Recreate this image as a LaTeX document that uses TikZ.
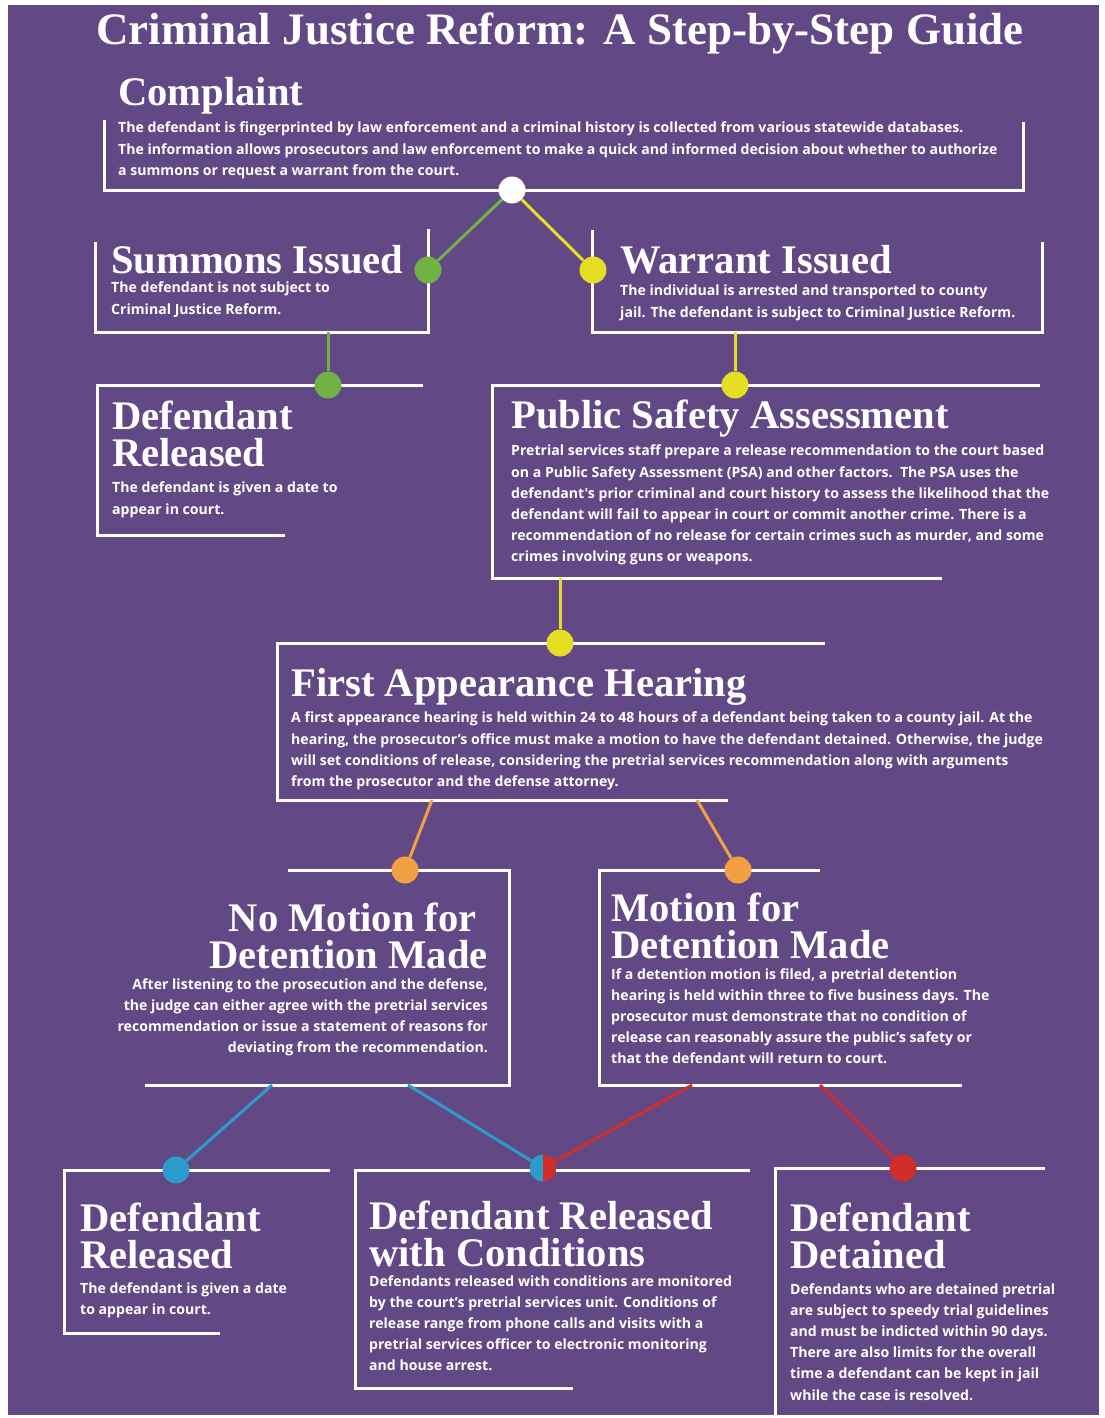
\documentclass[tikz,border=0pt]{standalone}
\usepackage{fontspec}
\setmainfont{Liberation Serif}
\newfontfamily\bodyfont{Open Sans}
\definecolor{bgpurple}{RGB}{99,72,134}
\definecolor{dotgreen}{RGB}{112,178,68}
\definecolor{dotyellow}{RGB}{230,222,35}
\definecolor{dotorange}{RGB}{241,160,68}
\definecolor{dotblue}{RGB}{44,156,202}
\definecolor{dotred}{RGB}{209,46,40}

\begin{document}
\begin{tikzpicture}[x=1pt,y=-1pt]
\tikzstyle{every node}+=[inner sep=0pt]
\tikzstyle{frame}=[white, line width=3pt]
\tikzstyle{link}=[line width=3pt]
\tikzstyle{dot}=[circle, minimum size=27pt]
\tikzstyle{title}=[font=\fontsize{45}{50}\selectfont\bfseries, text=white]
\tikzstyle{head}=[font=\fontsize{40.6}{37}\selectfont\bfseries, text=white, align=left]
\tikzstyle{body}=[font=\bodyfont\fontsize{14.1}{21.2}\selectfont\bfseries, text=white, align=left]
\useasboundingbox (0,0) rectangle (1104,1418);
\fill[white] (0,0) rectangle (1104,1418);
\fill[bgpurple] (8,5) rectangle (1099,1415);
\node[title, anchor=base] (title) at (560,45) {Criminal Justice Reform: A Step-by-Step Guide};
\draw[frame] (104,120) |- (1023,190) -- (1023,122);
\node[head, anchor=base west] (complaint) at (118,106) {Complaint};
\node[body, anchor=north west] (complainttxt) at (118,122) {The defendant is fingerprinted by law enforcement and a criminal history is collected from various statewide databases.\\The information allows prosecutors and law enforcement to make a quick and informed decision about whether to authorize\\a summons or request a warrant from the court.};
\draw[frame] (95,242) |- (428,332) -- (428,229);
\node[head, anchor=base west] (summons) at (111,273) {Summons Issued};
\node[body, anchor=north west] (summonstxt) at (111,282) {The defendant is not subject to\\Criminal Justice Reform.};
\draw[frame] (592,230) |- (1042,332) -- (1042,242);
\node[head, anchor=base west] (warrant) at (620,273) {Warrant Issued};
\node[body, anchor=north west] (warranttxt) at (620,285) {The individual is arrested and transported to county\\jail. The defendant is subject to Criminal Justice Reform.};
\draw[frame] (423,385) -| (97,535) -- (285,535);
\node[head, anchor=north west] (released) at (112,401) {Defendant\\Released};
\node[body, anchor=north west] (releasedtxt) at (112,482) {The defendant is given a date to\\appear in court.};
\draw[frame] (1040,385) -| (492,578) -- (942,578);
\node[head, anchor=base west] (psa) at (511,428) {Public Safety Assessment};
\node[body, anchor=north west] (psatxt) at (511,445) {Pretrial services staff prepare a release recommendation to the court based\\on a Public Safety Assessment (PSA) and other factors.\ \ The PSA uses the\\defendant's prior criminal and court history to assess the likelihood that the\\defendant will fail to appear in court or commit another crime. There is a\\recommendation of no release for certain crimes such as murder, and some\\crimes involving guns or weapons.};
\draw[frame] (825,643) -| (277,800) -- (728,800);
\node[head, anchor=base west] (hearing) at (291,696) {First Appearance Hearing};
\node[body, anchor=north west] (hearingtxt) at (291,712) {A first appearance hearing is held within 24 to 48 hours of a defendant being taken to a county jail. At the\\hearing, the prosecutor’s office must make a motion to have the defendant detained. Otherwise, the judge\\will set conditions of release, considering the pretrial services recommendation along with arguments\\from the prosecutor and the defense attorney.};
\draw[frame] (288,870) -| (509,1085) -- (145,1085);
\node[head, anchor=north east, align=right] (nomotion) at (488,903) {No Motion for\kern11pt\\Detention Made};
\node[body, anchor=north east, align=right] (nomotiontxt) at (488,978) {After listening to the prosecution and the defense,\\the judge can either agree with the pretrial services\\recommendation or issue a statement of reasons for\\deviating from the recommendation.};
\draw[frame] (820,870) -| (599,1085) -- (962,1085);
\node[head, anchor=north west] (motion) at (611,893) {Motion for\\Detention Made};
\node[body, anchor=north west] (motiontxt) at (611,968) {If a detention motion is filed, a pretrial detention\\hearing is held within three to five business days. The\\prosecutor must demonstrate that no condition of\\release can reasonably assure the public’s safety or\\that the defendant will return to court.};
\draw[frame] (330,1170) -| (64,1333) -- (220,1333);
\node[head, anchor=north west] (freed) at (80,1203) {Defendant\\Released};
\node[body, anchor=north west] (freedtxt) at (80,1282) {The defendant is given a date\\to appear in court.};
\draw[frame] (750,1170) -| (355,1388) -- (573,1388);
\node[head, anchor=north west] (conditions) at (369,1201) {Defendant Released\\with Conditions};
\node[body, anchor=north west] (conditionstxt) at (369,1275) {Defendants released with conditions are monitored\\by the court’s pretrial services unit. Conditions of\\release range from phone calls and visits with a\\pretrial services officer to electronic monitoring\\and house arrest.};
\draw[frame] (1045,1168) -| (775,1415);
\node[head, anchor=north west] (detained) at (790,1203) {Defendant\\Detained};
\node[body, anchor=north west] (detainedtxt) at (790,1283) {Defendants who are detained pretrial\\are subject to speedy trial guidelines\\and must be indicted within 90 days.\\There are also limits for the overall\\time a defendant can be kept in jail\\while the case is resolved.};
\coordinate (summonsfoot) at (328,332);
\coordinate (warrantfoot) at (735,332);
\coordinate (psafoot) at (560,578);
\coordinate (hearingfootl) at (432,800);
\coordinate (hearingfootr) at (697,800);
\coordinate (nomotionfootl) at (272,1085);
\coordinate (nomotionfootr) at (408,1085);
\coordinate (motionfootl) at (692,1085);
\coordinate (motionfootr) at (820,1085);
\node[dot, fill=white] (complaintdot) at (512,190) {};
\node[dot, fill=dotgreen] (summonsdot) at (428,270) {};
\node[dot, fill=dotyellow] (warrantdot) at (593,270) {};
\node[dot, fill=dotgreen] (releaseddot) at (328,385) {};
\node[dot, fill=dotyellow] (psadot) at (735,385) {};
\node[dot, fill=dotyellow] (hearingdot) at (560,643) {};
\node[dot, fill=dotorange] (nomotiondot) at (405,870) {};
\node[dot, fill=dotorange] (motiondot) at (738,870) {};
\node[dot, fill=dotblue] (freeddot) at (176,1170) {};
\node[dot, path picture={\fill[dotblue] (path picture bounding box.south west) rectangle (path picture bounding box.north);
  \fill[dotred] (path picture bounding box.south) rectangle (path picture bounding box.north east);}] (conditionsdot) at (543,1168) {};
\node[dot, fill=dotred] (detaineddot) at (903,1168) {};
\draw[link, dotgreen] (complaintdot) -- (summonsdot);
\draw[link, dotyellow] (complaintdot) -- (warrantdot);
\draw[link, dotgreen] (summonsfoot) -- (releaseddot);
\draw[link, dotyellow] (warrantfoot) -- (psadot);
\draw[link, dotyellow] (psafoot) -- (hearingdot);
\draw[link, dotorange] (hearingfootl) -- (nomotiondot);
\draw[link, dotorange] (hearingfootr) -- (motiondot);
\draw[link, dotblue] (nomotionfootl) -- (freeddot);
\draw[link, dotblue] (nomotionfootr) -- (conditionsdot);
\draw[link, dotred] (motionfootl) -- (conditionsdot);
\draw[link, dotred] (motionfootr) -- (detaineddot);
\end{tikzpicture}
\end{document}
